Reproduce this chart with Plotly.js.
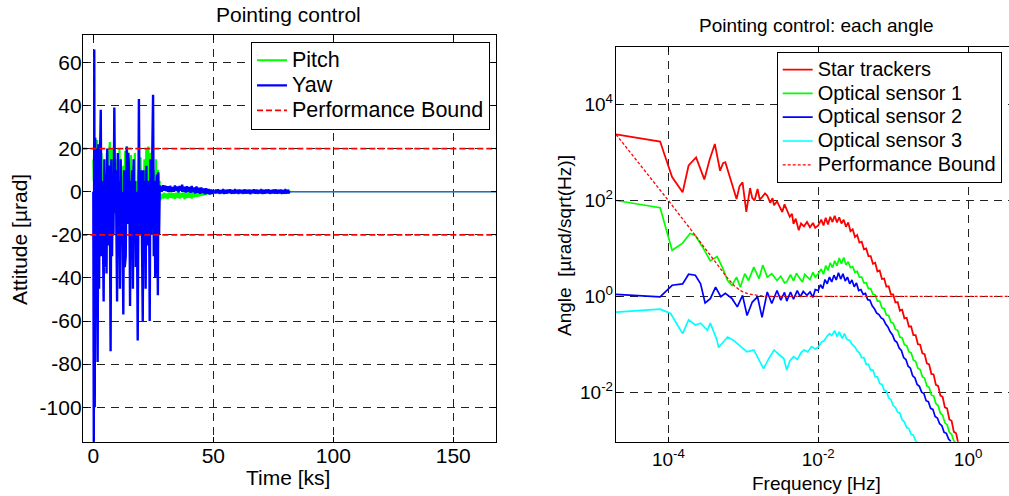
<!DOCTYPE html>
<html>
<head>
<meta charset="utf-8">
<script src="https://cdn.plot.ly/plotly-3.0.1.min.js"></script>
<style>
html,body{margin:0;padding:0;background:#fff;overflow:hidden;}
#chart{width:1009px;height:496px;}
</style>
</head>
<body>
<div id="chart"></div>
<script>
// ---------------- Left panel data (time in ks, attitude in µrad) ----------------
var yawTime1 = [0,0.2,0.4,0.6,0.8,1.0,1.2,1.5,1.8,2.1,2.4,2.7,3.1,3.4,3.7,4.0,4.3,4.6,4.9,5.2,5.5,5.8,6.1,6.4,6.8,7.2,7.5,7.8,8.1,8.4,8.75,9.1,9.4,9.9,10.2,10.5,10.8,11.1,11.4,11.7,12.0,12.5,12.8,13.1,13.5,13.9,14.2,14.6,15.0,15.3,15.6,15.9,16.2,16.5,16.8,17.1,17.4,17.7,18.1,18.5,19.0,19.3,19.6,20.0,20.6,20.9,21.2,21.5,21.8,22.1,22.4,22.8,23.2,23.5,23.8,24.1,24.5,24.9,25.2,25.5,25.8,26.1,26.5,26.9,27.1,27.4,27.7];
var yawValue1 = [0,-118,66,-100,25,-40,20,-20,-79,22,-45,10,38,-30,5,-20,-51,15,-35,8,-38,20,-25,12,10,-74,15,-30,5,-20,39,-10,10,-51,18,-30,5,-45,15,-20,0,-57,10,-35,-30,21,-15,18,5,-53,5,-25,10,-45,15,-20,5,-35,0,-69,43,-20,8,10,-60,10,-30,5,-45,12,-25,0,5,-60,15,-20,5,45,-30,5,-40,0,8,-48,9,-20,3];

var pitchTime1 = [0,0.2,0.4,0.7,1.0,1.3,1.6,1.9,2.2,2.5,2.8,3.1,3.4,3.7,4.0,4.4,4.8,5.2,5.6,6.0,6.4,6.9,7.3,7.7,8.1,8.5,8.9,9.3,9.7,10.1,10.5,10.9,11.3,11.7,12.1,12.5,12.9,13.3,13.7,14.1,14.5,14.9,15.3,15.7,16.1,16.5,16.9,17.3,17.7,18.1,18.5,18.9,19.3,19.7,20.1,20.5,20.9,21.3,21.7,22.1,22.5,22.9,23.3,23.7,24.1,24.5,24.9,25.3,25.7,26.1,26.5,26.9,27.3,27.7];
var pitchValue1 = [15,5,25,-10,20,-20,24,-5,10,-15,7,-20,18,-10,5,-22,10,-15,18,-5,15,23,-10,20,-18,12,-5,15,-20,10,-10,20,-15,8,-22,12,-5,19,-12,21,-8,15,-20,17,-5,12,-15,18,-10,5,-20,10,-8,16,-18,8,-12,15,-5,20,-10,21,-15,18,-5,12,-20,10,-8,15,-15,10,-2,5];

var noiseTimeA = [28,28.5,29,29.5,30,30.5,31,31.5,32,32.5,33,33.5,34,34.5,35,35.5,36,36.5,37,37.5,38,38.5,39,39.5,40,40.5,41,41.5,42,42.5,43,43.5,44,44.5,45,45.5,46,46.5,47,47.5,48,48.5,49,49.5,50];
var yawNoiseA = [2.5,0.0,3.0,0.5,2.8,0.2,2.5,-0.2,2.7,0.4,2.2,0.0,2.9,0.3,2.4,-0.3,2.6,0.5,3.2,0.1,2.3,-0.4,2.5,0.3,2.2,-0.5,2.6,-0.2,2.0,-0.8,2.4,-0.5,1.8,-1.0,1.9,-0.6,1.5,-1.2,1.6,-0.9,1.2,-1.3,1.0,-1.0,0.8];
var pitchNoiseA = [-4.0,-1.0,-3.2,-0.5,-3.0,-0.8,-3.4,-0.6,-2.8,-0.4,-3.1,-0.7,-3.3,-0.5,-2.9,-0.3,-3.2,-0.6,-2.7,-0.4,-3.5,-0.5,-3.0,-0.2,-2.8,-0.6,-3.2,-0.4,-2.6,-0.3,-2.5,0.0,-2.2,0.2,-2.0,0.3,-1.8,0.5,-1.5,0.6,-1.2,0.8,-1.0,0.7,-0.8];

var noiseTimeB = [50.5,51,51.5,52,52.5,53,53.5,54,54.5,55,55.5,56,56.5,57,57.5,58,58.5,59,59.5,60,60.5,61,61.5,62,62.5,63,63.5,64,64.5,65,65.5,66,66.5,67,67.5,68,68.5,69,69.5,70,70.5,71,71.5,72,72.5,73,73.5,74,74.5,75,75.5,76,76.5,77,77.5,78,78.5,79,79.5,80,80.5,81,81.5,82];
var yawNoiseB = [-0.9,1.0,-0.7,1.1,-1.0,0.8,-0.8,1.2,-1.1,0.9,-0.9,1.0,-0.6,1.1,-1.0,0.7,-0.9,1.2,-0.8,0.9,-1.1,1.0,-0.7,0.8,-1.0,1.1,-0.9,0.9,-0.8,1.0,-1.2,0.8,-0.7,1.1,-0.9,1.0,-1.0,0.8,-0.8,1.2,-1.1,0.9,-0.9,1.0,-0.7,1.1,-1.0,0.8,-0.8,1.0,-0.9,1.1,-1.0,0.9,-0.8,1.0,-1.1,0.8,-0.9,1.2,-1.0,0.9,-0.8,0.3];
var pitchNoiseB = [0.8,-0.9,1.0,-0.7,0.9,-1.0,0.8,-0.8,1.0,-0.9,0.7,-1.0,0.9,-0.8,1.0,-0.9,0.8,-1.0,0.9,-0.7,1.0,-0.9,0.8,-1.0,0.9,-0.8,1.0,-0.9,0.7,-1.0,0.9,-0.8,1.0,-0.9,0.8,-1.0,0.9,-0.7,1.0,-0.9,0.8,-1.0,0.9,-0.8,1.0,-0.9,0.8,-1.0,0.9,-0.7,1.0,-0.9,0.8,-1.0,0.9,-0.8,1.0,-0.9,0.7,-1.0,0.9,-0.8,0.6,0.0];

var tailTime = [82,168];
var tailValue = [0,0];

var boundTime = [-5,170];
var boundUpper = [20,20];
var boundLower = [-20,-20];

var leftXTicks = [0,50,100,150];
var leftXLabels = ['0','50','100','150'];
var leftYTicks = [-100,-80,-60,-40,-20,0,20,40,60];
var leftYLabels = ['-100','-80','-60','-40','-20','0','20','40','60'];

// ---------------- Right panel data (log10 frequency [Hz], log10 amplitude [µrad/sqrt(Hz)]) ----------------
var starFreqExp = [-4.699,-4.11,-4.05,-3.95,-3.81,-3.73,-3.63,-3.52,-3.45,-3.38,-3.31,-3.27,-3.24,-3.17,-3.09,-3.05,-3.01,-2.96,-2.91,-2.88,-2.85,-2.81,-2.78,-2.75,-2.71,-2.68,-2.64,-2.61,-2.59,-2.55,-2.51,-2.48,-2.45,-2.42,-2.38,-2.35,-2.33,-2.30,-2.26,-2.23,-2.19,-2.15,-2.11,-2.07,-2.04,-2.00,
  -1.96,-1.93,-1.90,-1.87,-1.84,-1.81,-1.78,-1.75,-1.72,-1.69,-1.66,-1.63,-1.60,-1.57,-1.54,-1.51,-1.48,-1.45,-1.42,-1.39,-1.36,-1.33,-1.30,-1.27,-1.24,-1.21,-1.18,-1.15,-1.12,-1.09,-1.06,-1.03,-1.00,-0.97,-0.94,-0.91,-0.88,-0.85,-0.82,-0.79,-0.76,-0.73,-0.70,-0.67,-0.64,-0.61,-0.58,-0.55,-0.52,-0.49,-0.46,-0.43,-0.40,-0.37,-0.34,-0.31,-0.28,-0.25,-0.22,-0.19,-0.16,-0.13];
var starAmpExp = [3.38,3.23,2.95,2.49,2.17,2.73,2.90,2.44,2.85,3.18,2.62,2.78,2.80,2.45,2.03,2.30,2.38,1.76,2.26,2.05,2.00,2.24,2.02,2.07,2.15,2.10,1.95,2.05,1.90,1.98,1.84,1.76,1.92,1.79,1.66,1.72,1.51,1.62,1.38,1.52,1.46,1.55,1.44,1.53,1.43,1.48,
  1.60,1.48,1.64,1.50,1.66,1.55,1.68,1.54,1.65,1.52,1.60,1.45,1.54,1.36,1.40,1.24,1.28,1.12,1.14,0.98,1.00,0.84,0.84,0.68,0.70,0.52,0.54,0.36,0.37,0.20,0.21,0.04,0.04,-0.13,-0.12,-0.30,-0.28,-0.46,-0.45,-0.63,-0.63,-0.81,-0.81,-1.00,-1.01,-1.19,-1.21,-1.40,-1.42,-1.62,-1.63,-1.85,-1.87,-2.07,-2.10,-2.32,-2.34,-2.57,-2.60,-2.83,-2.86,-3.08];

var os1FreqExp = [-4.699,-4.11,-3.95,-3.81,-3.71,-3.64,-3.53,-3.44,-3.35,-3.28,-3.21,-3.15,-3.09,-3.04,-2.98,-2.93,-2.86,-2.79,-2.74,-2.68,-2.62,-2.55,-2.50,-2.45,-2.42,-2.37,-2.33,-2.29,-2.26,-2.21,-2.18,-2.15,-2.11,-2.07,-2.04,-2.00,
  -1.96,-1.93,-1.90,-1.87,-1.84,-1.81,-1.78,-1.75,-1.72,-1.69,-1.66,-1.63,-1.60,-1.57,-1.54,-1.51,-1.48,-1.45,-1.42,-1.39,-1.36,-1.33,-1.30,-1.27,-1.24,-1.21,-1.18,-1.15,-1.12,-1.09,-1.06,-1.03,-1.00,-0.97,-0.94,-0.91,-0.88,-0.85,-0.82,-0.79,-0.76,-0.73,-0.70,-0.67,-0.64,-0.61,-0.58,-0.55,-0.52,-0.49,-0.46,-0.43,-0.40,-0.37,-0.34,-0.31,-0.28,-0.25,-0.22,-0.19,-0.16];
var os1AmpExp = [2.00,1.85,0.96,1.11,1.31,1.27,0.99,0.74,0.83,0.61,0.33,0.23,0.40,0.19,0.47,0.33,0.61,0.37,0.65,0.40,0.47,0.33,0.42,0.28,0.30,0.45,0.32,0.48,0.40,0.30,0.46,0.42,0.35,0.50,0.40,0.47,
  0.57,0.46,0.64,0.54,0.70,0.60,0.74,0.64,0.80,0.68,0.81,0.66,0.72,0.60,0.62,0.50,0.52,0.40,0.40,0.28,0.28,0.16,0.16,0.04,0.03,-0.10,-0.10,-0.24,-0.26,-0.39,-0.40,-0.54,-0.56,-0.69,-0.71,-0.85,-0.87,-1.01,-1.03,-1.16,-1.18,-1.33,-1.36,-1.50,-1.53,-1.68,-1.71,-1.87,-1.90,-2.06,-2.08,-2.24,-2.28,-2.44,-2.48,-2.64,-2.68,-2.84,-2.88,-3.02,-3.06];

var os2FreqExp = [-4.699,-4.11,-3.95,-3.81,-3.73,-3.64,-3.57,-3.51,-3.44,-3.37,-3.30,-3.24,-3.15,-3.08,-3.01,-2.95,-2.88,-2.81,-2.75,-2.68,-2.62,-2.55,-2.50,-2.45,-2.42,-2.37,-2.33,-2.28,-2.24,-2.20,-2.15,-2.11,-2.07,-2.04,-2.00,
  -1.97,-1.94,-1.91,-1.88,-1.85,-1.82,-1.79,-1.76,-1.73,-1.70,-1.67,-1.64,-1.61,-1.58,-1.55,-1.52,-1.49,-1.46,-1.43,-1.40,-1.37,-1.34,-1.31,-1.28,-1.25,-1.22,-1.19,-1.16,-1.13,-1.10,-1.07,-1.04,-1.01,-0.98,-0.95,-0.92,-0.89,-0.86,-0.83,-0.80,-0.77,-0.74,-0.71,-0.68,-0.65,-0.62,-0.59,-0.56,-0.53,-0.50,-0.47,-0.44,-0.41,-0.38,-0.35,-0.32,-0.29,-0.26,-0.23];
var os2AmpExp = [0.04,-0.01,0.23,0.26,0.46,0.44,0.26,-0.14,-0.05,0.19,-0.01,0.06,-0.05,-0.22,0.02,-0.40,-0.12,-0.01,-0.44,0.09,-0.15,0.12,-0.08,0.08,-0.10,0.09,-0.06,0.12,-0.01,0.10,0.02,0.09,-0.02,0.14,0.12,
  0.24,0.16,0.35,0.26,0.40,0.30,0.44,0.34,0.49,0.36,0.47,0.32,0.40,0.26,0.34,0.20,0.28,0.12,0.14,0.04,0.06,-0.07,-0.08,-0.20,-0.26,-0.35,-0.38,-0.45,-0.48,-0.58,-0.64,-0.74,-0.80,-0.92,-0.96,-1.08,-1.13,-1.28,-1.32,-1.46,-1.50,-1.66,-1.70,-1.84,-1.88,-2.00,-2.03,-2.18,-2.20,-2.34,-2.36,-2.51,-2.54,-2.66,-2.70,-2.84,-2.86,-2.98,-3.03];

var os3FreqExp = [-4.699,-4.11,-3.97,-3.81,-3.73,-3.64,-3.57,-3.48,-3.44,-3.35,-3.33,-3.27,-3.21,-3.13,-3.05,-2.95,-2.86,-2.80,-2.73,-2.66,-2.59,-2.52,-2.46,-2.42,-2.38,-2.33,-2.28,-2.23,-2.19,-2.14,-2.09,-2.04,-2.00,
  -1.96,-1.92,-1.88,-1.85,-1.82,-1.78,-1.75,-1.72,-1.68,-1.65,-1.62,-1.58,-1.55,-1.51,-1.48,-1.45,-1.42,-1.39,-1.36,-1.33,-1.30,-1.27,-1.24,-1.21,-1.18,-1.15,-1.12,-1.09,-1.06,-1.03,-1.00,-0.97,-0.94,-0.91,-0.88,-0.85,-0.82,-0.79,-0.76,-0.73,-0.70,-0.67];
var os3AmpExp = [-0.33,-0.27,-0.36,-0.78,-0.49,-0.60,-0.56,-0.71,-0.56,-0.92,-1.07,-0.95,-0.85,-0.92,-1.02,-1.16,-1.12,-1.30,-1.51,-1.30,-1.12,-1.22,-1.30,-1.54,-1.35,-1.26,-1.32,-1.18,-1.12,-1.16,-1.05,-1.10,-1.06,
  -0.96,-0.92,-0.83,-0.78,-0.82,-0.72,-0.84,-0.74,-0.88,-0.78,-0.90,-0.92,-1.00,-1.06,-1.14,-1.18,-1.28,-1.28,-1.42,-1.42,-1.54,-1.54,-1.68,-1.68,-1.82,-1.84,-1.96,-1.98,-2.12,-2.16,-2.28,-2.32,-2.42,-2.44,-2.58,-2.62,-2.74,-2.76,-2.88,-2.90,-3.02,-3.06];

var boundFreqExp = [-4.699,-4.40,-4.00,-3.66,-3.44,-3.30,-3.21,-3.12,-3.04,-2.95,-2.86,-2.75,-2.68,0.60];
var boundAmpExp = [3.38,2.80,2.00,1.31,0.85,0.56,0.38,0.22,0.12,0.06,0.03,0.01,0.0,0.0];

var rightXTicks = [1e-4,1e-2,1];
var rightXLabels = ['10<sup>-4</sup>','10<sup>-2</sup>','10<sup>0</sup>'];
var rightYTicks = [1e-2,1,1e2,1e4];
var rightYLabels = ['10<sup>-2</sup>','10<sup>0</sup>','10<sup>2</sup>','10<sup>4</sup>'];

// ---------------- Build ----------------
function pw(e){ return e.map(function(v){ return Math.pow(10, v); }); }
var W = 1009, H = 496;
function px(x){ return x / W; }
function py(y){ return 1 - y / H; }
function big(t, s){ return '<span style="font-size:' + s + 'px">' + t + '</span>'; }

var FONT = 'Liberation Sans, Arial, Helvetica, sans-serif';
var GREEN = '#00ff00', BLUE = '#0000ff', RED = '#ff0000', CYAN = '#00ffff';
var LS = 21.5, RS = 20;

var traces = [
  {x: pitchTime1, y: pitchValue1, type: 'scatter', mode: 'lines', name: big('Pitch', LS), legendgroup: 'p', line: {color: GREEN, width: 2.2}, xaxis: 'x', yaxis: 'y', legend: 'legend'},
  {x: noiseTimeA, y: pitchNoiseA, type: 'scatter', mode: 'lines', legendgroup: 'p', showlegend: false, line: {color: GREEN, width: 2.2}, xaxis: 'x', yaxis: 'y'},
  {x: noiseTimeB, y: pitchNoiseB, type: 'scatter', mode: 'lines', legendgroup: 'p', showlegend: false, line: {color: GREEN, width: 2}, xaxis: 'x', yaxis: 'y'},
  {x: tailTime, y: tailValue, type: 'scatter', mode: 'lines', legendgroup: 'p', showlegend: false, line: {color: GREEN, width: 1}, xaxis: 'x', yaxis: 'y'},
  {x: yawTime1, y: yawValue1, type: 'scatter', mode: 'lines', name: big('Yaw', LS), legendgroup: 'yw', line: {color: BLUE, width: 2.4}, xaxis: 'x', yaxis: 'y', legend: 'legend'},
  {x: noiseTimeA, y: yawNoiseA, type: 'scatter', mode: 'lines', legendgroup: 'yw', showlegend: false, line: {color: BLUE, width: 2.4}, xaxis: 'x', yaxis: 'y'},
  {x: noiseTimeB, y: yawNoiseB, type: 'scatter', mode: 'lines', legendgroup: 'yw', showlegend: false, line: {color: BLUE, width: 2}, xaxis: 'x', yaxis: 'y'},
  {x: tailTime, y: tailValue, type: 'scatter', mode: 'lines', legendgroup: 'yw', showlegend: false, line: {color: '#3a5fcf', width: 1.4}, xaxis: 'x', yaxis: 'y'},
  {x: boundTime, y: boundUpper, type: 'scatter', mode: 'lines', name: big('Performance Bound', LS), legendgroup: 'b', line: {color: RED, width: 1.8, dash: '6px,3px'}, xaxis: 'x', yaxis: 'y', legend: 'legend'},
  {x: boundTime, y: boundLower, type: 'scatter', mode: 'lines', legendgroup: 'b', showlegend: false, line: {color: RED, width: 1.8, dash: '6px,3px'}, xaxis: 'x', yaxis: 'y'},

  {x: pw(starFreqExp), y: pw(starAmpExp), type: 'scatter', mode: 'lines', name: big('Star trackers', RS), line: {color: RED, width: 1.8}, xaxis: 'x2', yaxis: 'y2', legend: 'legend2'},
  {x: pw(os1FreqExp), y: pw(os1AmpExp), type: 'scatter', mode: 'lines', name: big('Optical sensor 1', RS), line: {color: GREEN, width: 1.7}, xaxis: 'x2', yaxis: 'y2', legend: 'legend2'},
  {x: pw(os2FreqExp), y: pw(os2AmpExp), type: 'scatter', mode: 'lines', name: big('Optical sensor 2', RS), line: {color: BLUE, width: 1.7}, xaxis: 'x2', yaxis: 'y2', legend: 'legend2'},
  {x: pw(os3FreqExp), y: pw(os3AmpExp), type: 'scatter', mode: 'lines', name: big('Optical sensor 3', RS), line: {color: CYAN, width: 1.7}, xaxis: 'x2', yaxis: 'y2', legend: 'legend2'},
  {x: pw(boundFreqExp), y: pw(boundAmpExp), type: 'scatter', mode: 'lines', name: big('Performance Bound', RS), line: {color: RED, width: 1.3, dash: '3px,2px'}, xaxis: 'x2', yaxis: 'y2', legend: 'legend2'}
];

var gridCommon = {showgrid: true, gridcolor: '#222', gridwidth: 1, griddash: '8px,6px', zeroline: false,
  showline: true, linecolor: '#000', linewidth: 1.2, ticks: 'inside', ticklen: 5, tickcolor: '#000', tickwidth: 1};

var layout = {
  width: W, height: H,
  margin: {l: 0, r: 0, t: 0, b: 0, pad: 0},
  paper_bgcolor: '#fff', plot_bgcolor: '#fff',
  font: {family: FONT, color: '#000'},
  xaxis: Object.assign({}, gridCommon, {domain: [px(83), px(496)], range: [-4.3, 167.8], tickmode: 'array', tickvals: leftXTicks, ticktext: leftXLabels, mirror: 'ticks', anchor: 'y', ticklabelstandoff: -5, tickfont: {size: 21, family: FONT, color: '#000'}}),
  yaxis: Object.assign({}, gridCommon, {domain: [py(441.7), py(35)], range: [-116, 72.7], tickmode: 'array', tickvals: leftYTicks, ticktext: leftYLabels, mirror: 'ticks', anchor: 'x', ticklabelstandoff: -4, tickfont: {size: 21, family: FONT, color: '#000'}}),
  xaxis2: Object.assign({}, gridCommon, {type: 'log', domain: [px(616), 1], range: [-4.699, 0.546], tickmode: 'array', tickvals: rightXTicks, ticktext: rightXLabels, mirror: 'ticks', anchor: 'y2', tickfont: {size: 19, family: FONT, color: '#000'}}),
  yaxis2: Object.assign({}, gridCommon, {type: 'log', domain: [py(441.7), py(46.7)], range: [-3.035, 5.21], tickmode: 'array', tickvals: rightYTicks, ticktext: rightYLabels, mirror: false, anchor: 'x2', ticklabelstandoff: -2, tickfont: {size: 19, family: FONT, color: '#000'}}),
  showlegend: true,
  legend: {x: px(490), xanchor: 'right', y: py(41.7), yanchor: 'top', bgcolor: '#fff', bordercolor: '#000', borderwidth: 1, font: {size: 17, family: FONT, color: '#000'}, tracegroupgap: 0},
  legend2: {x: px(1001.7), xanchor: 'right', y: py(51.7), yanchor: 'top', bgcolor: '#fff', bordercolor: '#000', borderwidth: 1, font: {size: 16, family: FONT, color: '#000'}, tracegroupgap: 0},
  annotations: [
    {text: 'Pointing control', x: px(288), y: py(14.5), xref: 'paper', yref: 'paper', xanchor: 'center', yanchor: 'middle', showarrow: false, font: {size: 21, family: FONT, color: '#000'}},
    {text: 'Time [ks]', x: px(288), y: py(477), xref: 'paper', yref: 'paper', xanchor: 'center', yanchor: 'middle', showarrow: false, font: {size: 21, family: FONT, color: '#000'}},
    {text: 'Attitude [\u00b5rad]', x: px(19), y: py(240), xref: 'paper', yref: 'paper', xanchor: 'center', yanchor: 'middle', textangle: -90, showarrow: false, font: {size: 21, family: FONT, color: '#000'}},
    {text: 'Pointing control: each angle', x: px(816), y: py(25), xref: 'paper', yref: 'paper', xanchor: 'center', yanchor: 'middle', showarrow: false, font: {size: 19, family: FONT, color: '#000'}},
    {text: 'Frequency [Hz]', x: px(816), y: py(483), xref: 'paper', yref: 'paper', xanchor: 'center', yanchor: 'middle', showarrow: false, font: {size: 19, family: FONT, color: '#000'}},
    {text: 'Angle\u00a0 [\u00b5rad/sqrt(Hz)]', x: px(564), y: py(246), xref: 'paper', yref: 'paper', xanchor: 'center', yanchor: 'middle', textangle: -90, showarrow: false, font: {size: 19, family: FONT, color: '#000'}}
  ]
};

Plotly.newPlot('chart', traces, layout, {displayModeBar: false, staticPlot: true});
</script>
</body>
</html>
